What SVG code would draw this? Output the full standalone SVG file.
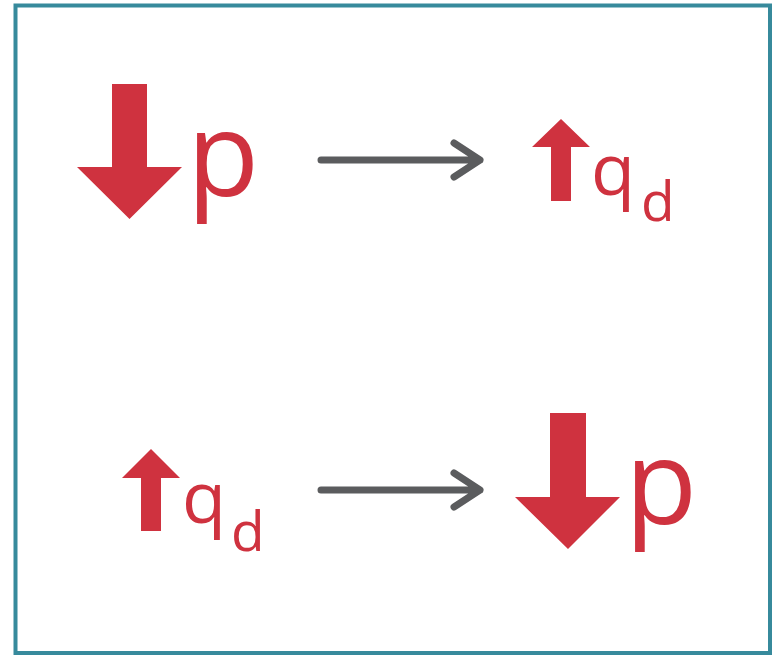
<svg xmlns="http://www.w3.org/2000/svg" width="778" height="655" viewBox="0 0 778 655">
<style>
.red{fill:#cf323f}
.t{font-family:"Open Sans","Liberation Sans",sans-serif;fill:#cf323f}
.conn{stroke:#5b5c5e;stroke-width:7;fill:none;stroke-linecap:round;stroke-linejoin:round}
</style>
<rect x="0" y="0" width="778" height="655" fill="#fff"/>
<rect x="15.5" y="5.5" width="754.5" height="647.5" fill="#fff" stroke="#378a9c" stroke-width="4"/>
<g id="node-p-down-1">
<polygon class="red" points="112,84 147,84 147,167 182,167 129.5,219 77,167 112,167"/>
<text class="t" x="187" y="196" font-size="118">p</text>
</g>
<g id="node-qd-up-1">
<polygon class="red" points="561,119 590,147 571,147 571,201 551,201 551,147 532,147"/>
<text class="t" x="591" y="195" font-size="72">q</text>
<text class="t" x="641" y="221" font-size="55">d</text>
</g>
<g id="node-qd-up-2">
<polygon class="red" points="151,449 180,478 161,478 161,531 141,531 141,478 122,478"/>
<text class="t" x="182" y="523" font-size="72">q</text>
<text class="t" x="231" y="551" font-size="55">d</text>
</g>
<g id="node-p-down-2">
<polygon class="red" points="550,413 586,413 586,497 620,497 568,549 515,497 550,497"/>
<text class="t" x="625" y="524" font-size="118">p</text>
</g>
<g id="connectors">
<path class="conn" d="M321,160 H480 M454,143 L480,160 L454,177"/>
<path class="conn" d="M321,490 H480 M454,473 L480,490 L454,507"/>
</g>
</svg>
